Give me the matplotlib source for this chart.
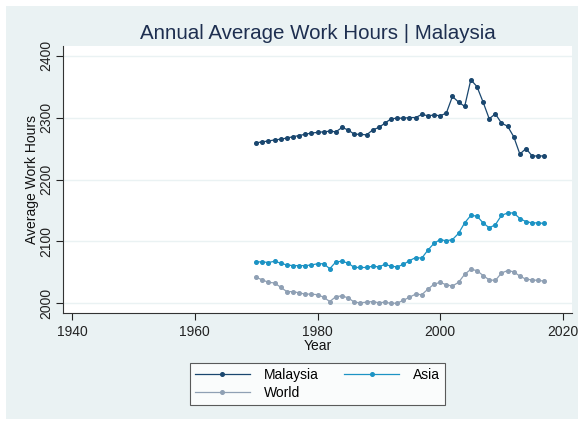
import numpy as np
import matplotlib.pyplot as plt
from matplotlib.patches import Rectangle

years = np.arange(1970, 2018)

malaysia = [2259, 2261, 2262, 2264, 2265, 2267, 2269, 2271, 2273, 2275,
            2276, 2277, 2278, 2277, 2284, 2280, 2273, 2273, 2272, 2280,
            2284, 2291, 2298, 2299, 2299, 2300, 2300, 2305, 2303, 2304,
            2303, 2307, 2334, 2325, 2318, 2361, 2350, 2325, 2298, 2306,
            2291, 2286, 2269, 2241, 2250, 2238, 2238, 2238]

asia = [2067, 2067, 2066, 2068, 2065, 2062, 2061, 2061, 2061, 2062,
        2064, 2064, 2056, 2067, 2068, 2065, 2058, 2058, 2058, 2060,
        2059, 2063, 2060, 2059, 2063, 2069, 2074, 2073, 2086, 2097,
        2103, 2101, 2103, 2113, 2130, 2142, 2141, 2130, 2122, 2127,
        2142, 2146, 2146, 2137, 2132, 2130, 2130, 2129]

world = [2042, 2038, 2034, 2033, 2026, 2019, 2019, 2017, 2015, 2015,
         2014, 2010, 2003, 2011, 2012, 2009, 2002, 2001, 2002, 2003,
         2001, 2002, 2000, 2000.5, 2005, 2010, 2015, 2014, 2023, 2031,
         2034, 2030, 2028, 2034, 2047, 2055, 2053, 2045, 2038, 2037,
         2049, 2053, 2051, 2044, 2039, 2038, 2037, 2036]

xticks = [1940, 1960, 1980, 2000, 2020]
yticks = [2000, 2100, 2200, 2300, 2400]

plt.rcParams['font.family'] = ['Liberation Sans', 'DejaVu Sans']

W, H = 584, 425
fig = plt.figure(figsize=(W / 100, H / 100), dpi=100, facecolor='white')

# stata-like graph region
fig.patches.append(Rectangle((6 / W, 6 / H), 1 - 12 / W, 1 - 12 / H,
                             transform=fig.transFigure, facecolor='#eaf2f3',
                             edgecolor='none', zorder=-5))

ax = fig.add_axes([63 / W, 1 - 313 / H, (572 - 63) / W, (313 - 46) / H])
ax.set_zorder(2)
ax.set_facecolor('white')

l1, = ax.plot(years, malaysia, color='#1a476f', lw=0.9, marker='o', ms=2.6, label='Malaysia')
l2, = ax.plot(years, asia, color='#1c93c4', lw=0.9, marker='o', ms=2.6, label='Asia')
l3, = ax.plot(years, world, color='#8fa0b4', lw=0.9, marker='o', ms=2.6, label='World')

ax.set_xlim(1938.5, 2021.5)
ax.set_ylim(1984.5, 2415.5)
ax.set_xticks(xticks)
ax.set_yticks(yticks)
ax.set_yticklabels([str(v) for v in yticks], rotation=90, va='center')
ax.grid(axis='y', color='#eaf2f3', lw=1)
ax.set_axisbelow(True)

for s in ['top', 'right']:
    ax.spines[s].set_visible(False)
for s in ['left', 'bottom']:
    ax.spines[s].set_color('#333333')
    ax.spines[s].set_linewidth(0.8)
ax.tick_params(colors='#222222', labelsize=10, length=5, width=0.8)
ax.tick_params(axis='y', pad=2)

ax.set_xlabel('Year', fontsize=10, labelpad=0, color='#111111')
ax.set_ylabel('Average Work Hours', fontsize=10, labelpad=0, color='#111111')
ax.set_title('Annual Average Work Hours | Malaysia', fontsize=14.8,
             color='#1e2f50', pad=5)

# row-wise order: Malaysia, Asia / World
leg = ax.legend([l1, l3, l2], ['Malaysia', 'World', 'Asia'],
                loc='upper center', bbox_to_anchor=(0.5, -0.16), ncol=2,
                frameon=True, fancybox=False, edgecolor='#333333',
                fontsize=10, handlelength=4, handletextpad=1.0,
                columnspacing=1.8, borderpad=0.35, labelspacing=0.3)
leg.get_frame().set_linewidth(0.8)

fig.savefig('out.png', dpi=100, facecolor=fig.get_facecolor())
